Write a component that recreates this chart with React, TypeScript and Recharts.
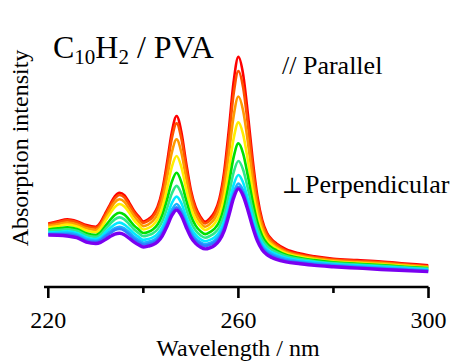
import React from "react";
import { LineChart, Line, XAxis, YAxis } from "recharts";

// Wavelength (nm)
const wavelengths = [
  220, 222, 224, 226, 228, 230,
  231, 232, 233, 234, 235, 236, 237, 238, 239, 240,
  241, 242, 243, 244, 245, 246, 247, 248, 249, 250, 251, 252, 253,
  254, 255, 256, 257, 258, 259, 260,
  261, 262, 263, 264, 265, 266, 267, 268,
  270, 273, 276, 280, 285, 290, 295, 300,
];

// Absorption intensity (a.u.), one spectrum per polarisation angle
const sRed = [
  23.2, 24.0, 24.7, 24.0, 22.6, 22.0,
  23.6, 26.9, 30.1, 33.1, 34.4, 33.5, 30.9, 27.9, 25.8, 23.9,
  24.7, 26.2, 29.3, 35.5, 45.5, 56.6, 62.4, 56.6, 45.4, 35.4, 29.2, 25.7, 23.8,
  25.0, 27.4, 32.2, 41.9, 57.5, 74.9, 84.0,
  77.6, 63.1, 46.6, 33.1, 24.5, 19.8, 17.4, 15.9,
  13.8, 12.2, 11.2, 10.3, 9.8, 9.3, 8.6, 7.9,
];
const sOrangeRed = [
  22.9, 23.6, 24.3, 23.6, 22.2, 21.6,
  23.1, 26.3, 29.5, 32.3, 33.6, 32.7, 30.1, 27.3, 25.2, 23.4,
  24.1, 25.6, 28.5, 34.3, 43.7, 54.3, 59.7, 54.2, 43.6, 34.2, 28.3, 25.0, 23.2,
  24.3, 26.5, 31.0, 39.9, 54.3, 70.5, 78.8,
  72.8, 59.3, 44.0, 31.5, 23.5, 19.2, 16.9, 15.4,
  13.3, 11.8, 10.8, 10.0, 9.5, 9.0, 8.3, 7.6,
];
const sOrange = [
  22.3, 22.9, 23.5, 22.8, 21.4, 20.8,
  22.2, 25.2, 28.2, 30.9, 32.0, 31.1, 28.6, 26.0, 23.9, 22.2,
  22.8, 24.1, 26.6, 31.7, 40.0, 49.1, 53.9, 49.1, 39.9, 31.6, 26.5, 23.6, 22.0,
  23.0, 24.9, 28.7, 36.3, 48.6, 62.4, 69.5,
  64.3, 52.8, 39.5, 28.8, 21.9, 18.1, 16.1, 14.7,
  12.8, 11.4, 10.5, 9.7, 9.1, 8.7, 8.0, 7.4,
];
const sYellow = [
  21.7, 22.2, 22.8, 22.1, 20.6, 20.0,
  21.3, 24.1, 26.8, 29.2, 30.3, 29.4, 27.2, 24.5, 22.6, 21.0,
  21.5, 22.6, 24.8, 29.0, 36.0, 43.8, 47.8, 43.8, 35.9, 28.9, 24.6, 22.2, 20.8,
  21.6, 23.2, 26.3, 32.6, 42.8, 54.2, 60.1,
  55.7, 46.1, 35.1, 26.1, 20.3, 17.0, 15.3, 14.1,
  12.3, 11.0, 10.1, 9.3, 8.8, 8.3, 7.7, 7.1,
];
const sGreen = [
  21.0, 21.4, 21.8, 21.2, 19.6, 19.0,
  20.0, 22.2, 24.4, 26.3, 27.1, 26.4, 24.6, 22.5, 21.0, 19.7,
  20.1, 21.0, 22.8, 26.3, 32.0, 38.4, 41.7, 38.3, 31.8, 26.0, 22.4, 20.4, 19.3,
  20.0, 21.3, 23.9, 29.2, 37.8, 47.4, 52.4,
  48.7, 40.5, 31.3, 23.6, 18.7, 15.9, 14.4, 13.4,
  11.8, 10.6, 9.8, 9.0, 8.5, 8.0, 7.4, 6.9,
];
const sSpring = [
  20.5, 20.8, 21.1, 20.5, 18.9, 18.3,
  19.2, 21.1, 23.0, 24.7, 25.4, 24.7, 23.0, 21.1, 19.7, 18.5,
  18.9, 19.6, 21.1, 24.0, 28.8, 34.1, 36.9, 34.1, 28.6, 23.7, 20.6, 18.9, 18.0,
  18.6, 19.7, 21.9, 26.4, 33.7, 41.8, 46.0,
  42.8, 35.9, 28.0, 21.5, 17.3, 15.0, 13.6, 12.7,
  11.3, 10.2, 9.4, 8.7, 8.2, 7.7, 7.2, 6.7,
];
const sCyan = [
  19.9, 20.1, 20.3, 19.7, 18.1, 17.5,
  18.2, 19.9, 21.5, 22.9, 23.5, 22.8, 21.3, 19.6, 18.3, 17.2,
  17.5, 18.1, 19.4, 21.9, 26.0, 30.6, 33.0, 30.6, 25.8, 21.6, 19.0, 17.5, 16.7,
  17.2, 18.2, 20.1, 24.0, 30.2, 37.3, 40.9,
  38.1, 32.1, 25.3, 19.6, 16.0, 13.9, 12.7, 11.9,
  10.7, 9.7, 9.1, 8.4, 7.9, 7.4, 6.9, 6.4,
];
const sSky = [
  19.5, 19.7, 19.8, 19.2, 17.5, 16.9,
  17.5, 18.9, 20.3, 21.5, 22.0, 21.4, 20.0, 18.4, 17.2, 16.2,
  16.5, 17.0, 18.2, 20.4, 24.1, 28.2, 30.3, 28.1, 23.9, 20.1, 17.7, 16.4, 15.7,
  16.1, 17.0, 18.8, 22.3, 28.1, 34.5, 37.8,
  35.3, 29.8, 23.5, 18.4, 15.0, 13.2, 12.1, 11.3,
  10.2, 9.3, 8.7, 8.1, 7.6, 7.1, 6.6, 6.1,
];
const sBlue = [
  19.2, 19.2, 19.2, 18.6, 17.0, 16.5,
  17.0, 18.4, 19.6, 20.8, 21.2, 20.6, 19.2, 17.6, 16.4, 15.5,
  15.8, 16.3, 17.4, 19.6, 23.1, 27.1, 29.1, 27.0, 22.9, 19.2, 17.0, 15.7, 15.0,
  15.4, 16.3, 18.0, 21.5, 27.1, 33.4, 36.6,
  34.2, 28.7, 22.6, 17.7, 14.4, 12.5, 11.5, 10.8,
  9.7, 8.9, 8.3, 7.7, 7.2, 6.7, 6.3, 5.9,
];
const sViolet = [
  19.0, 18.9, 18.6, 18.0, 16.4, 15.9,
  16.3, 17.3, 18.4, 19.3, 19.6, 19.1, 17.8, 16.5, 15.4, 14.6,
  14.9, 15.4, 16.5, 18.7, 22.2, 26.1, 28.1, 26.0, 21.9, 18.2, 15.9, 14.6, 13.9,
  14.3, 15.2, 17.0, 20.5, 26.2, 32.5, 35.8,
  33.3, 28.0, 21.9, 16.8, 13.6, 11.8, 10.8, 10.1,
  9.2, 8.5, 7.9, 7.4, 6.9, 6.4, 6.0, 5.6,
];

const xTicks = [220, 240, 260, 280, 300];
const xTickLabels = [220, 260, 300];

const series = [
  { key: "s0", values: sRed, color: "#ff0000" },
  { key: "s1", values: sOrangeRed, color: "#ff5200" },
  { key: "s2", values: sOrange, color: "#ff9a00" },
  { key: "s3", values: sYellow, color: "#ffee00" },
  { key: "s4", values: sGreen, color: "#00e000" },
  { key: "s5", values: sSpring, color: "#2ee88a" },
  { key: "s6", values: sCyan, color: "#00eaff" },
  { key: "s7", values: sSky, color: "#1ab2ff" },
  { key: "s8", values: sBlue, color: "#2d7dff" },
  { key: "s9", values: sViolet, color: "#7a00f0" },
];

const rows = wavelengths.map((wl, i) => {
  const r: Record<string, number> = { wl };
  series.forEach((s) => {
    r[s.key] = s.values[i];
  });
  return r;
});

const SERIF = '"Liberation Serif", "Times New Roman", serif';
const txt = { fontFamily: SERIF, fill: "#000" } as React.CSSProperties;

const XTick = (props: any) => {
  const { x, y, payload } = props;
  const v = payload.value;
  const major = xTickLabels.includes(v);
  return (
    <g>
      <line x1={x} x2={x} y1={y} y2={y + (major ? 11 : 6)} stroke="#000" strokeWidth={2.6} />
      {major && (
        <text x={x} y={y + 41} textAnchor="middle" style={{ ...txt, fontSize: 24 }}>
          {v}
        </text>
      )}
    </g>
  );
};

export default function App() {
  return (
    <div style={{ position: "absolute", left: 0, top: 0, width: 455, height: 361, background: "#fff" }}>
      <LineChart
        width={455}
        height={361}
        data={rows}
        margin={{ top: 13, right: 26.5, bottom: 0, left: 44 }}
      >
        <XAxis
          dataKey="wl"
          type="number"
          domain={[219.1, 300]}
          ticks={xTicks}
          allowDataOverflow
          height={74}
          tickSize={0}
          tickMargin={0}
          tickLine={false}
          tick={XTick}
          axisLine={{ stroke: "#000", strokeWidth: 2.6 }}
        />
        <YAxis
          type="number"
          domain={[0, 100]}
          width={0}
          tick={false}
          tickLine={false}
          axisLine={{ stroke: "#000", strokeWidth: 2.6 }}
        />
        {series.map((s) => (
          <Line
            key={s.key}
            dataKey={s.key}
            type="monotone"
            stroke={s.color}
            strokeWidth={s.key === "s9" ? 3.4 : 2.6}
            dot={false}
            activeDot={false}
            isAnimationActive={false}
          />
        ))}
      </LineChart>
      <svg
        width={455}
        height={361}
        style={{ position: "absolute", left: 0, top: 0, pointerEvents: "none" }}
      >
        <text x={53} y={57.5} style={{ ...txt, fontSize: 32 }}>
          C
          <tspan style={{ fontSize: 21 }} dy={6}>10</tspan>
          <tspan style={{ fontSize: 32 }} dy={-6}>H</tspan>
          <tspan style={{ fontSize: 21 }} dy={6}>2</tspan>
          <tspan style={{ fontSize: 32 }} dy={-6}>{" / PVA"}</tspan>
        </text>
        <text x={282} y={74} style={{ ...txt, fontSize: 26 }}>
          {"// Parallel"}
        </text>
        <text x={282} y={193} style={{ fontFamily: '"DejaVu Serif", serif', fill: "#000", fontSize: 22 }}>
          ⊥
        </text>
        <text x={305} y={193} style={{ ...txt, fontSize: 26 }}>
          Perpendicular
        </text>
        <text x={238} y={356} textAnchor="middle" style={{ ...txt, fontSize: 24 }}>
          Wavelength / nm
        </text>
        <text
          x={27.6}
          y={148}
          textAnchor="middle"
          style={{ ...txt, fontSize: 24 }}
          transform="rotate(-90 27.6 148)"
        >
          Absorption intensity
        </text>
      </svg>
    </div>
  );
}
